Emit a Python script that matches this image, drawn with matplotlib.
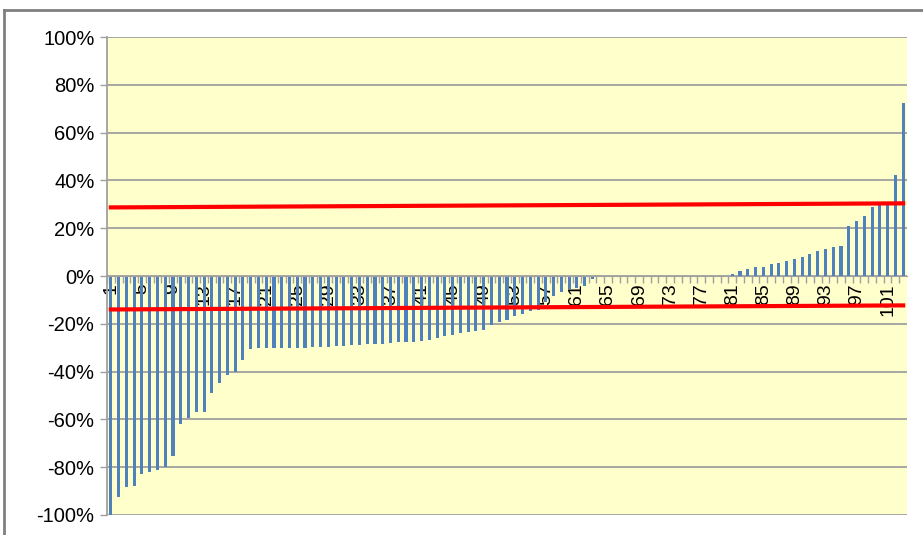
import matplotlib
matplotlib.use("Agg")
import matplotlib.pyplot as plt
from matplotlib.lines import Line2D
from matplotlib.ticker import FuncFormatter, FixedLocator

# =====================================================
# Data (percent values, sorted)
# =====================================================

values = [
    -100.0, -92.5, -88.3, -88.0, -83.0, -82.0, -81.0, -80.0, -75.5, -62.0,
    -59.4, -57.0, -56.7, -48.8, -44.7, -41.6, -40.0, -35.2,
    -30.5, -30.3, -30.3, -30.2, -30.2, -30.1, -30.1, -30.0, -29.8, -29.6,
    -29.5, -29.3, -29.1, -29.0, -28.8, -28.6, -28.5, -28.3, -28.0, -27.8,
    -27.7, -27.5, -27.2, -26.8,
    -25.9, -25.2, -24.6, -23.8, -23.5, -23.2, -22.8, -20.7, -19.2, -18.5,
    -16.8, -15.8, -14.7, -14.3,
    -11.0, -8.4, -6.9, -5.6, -5.2, -4.3, -1.2,
    0.0, 0.0, 0.0, 0.0, 0.0, 0.0, 0.0, 0.0, 0.0, 0.0, 0.0, 0.0, 0.0, 0.0,
    0.0, 0.0, 0.0,
    0.7, 2.1, 3.1, 3.6, 3.6, 5.2, 5.6, 6.2, 7.1, 8.1, 9.1, 10.5, 11.5,
    12.0, 12.4, 21.0, 22.9, 24.9, 29.0, 29.8, 29.8, 42.3, 72.3,
]

categories = list(range(1, len(values) + 1))

# red reference lines: value at first and last category
upper_line = [28.7, 30.4]
lower_line = [-14.0, -12.3]

y_ticks = [-100, -80, -60, -40, -20, 0, 20, 40, 60, 80, 100]

# =====================================================
# Plot
# =====================================================

plt.rcParams["font.family"] = ["Liberation Sans", "DejaVu Sans"]

fig = plt.figure(figsize=(9.23, 5.35), dpi=100)
ax = fig.add_axes([0.1159, 0.0374, 0.8668, 0.8934])
ax.set_facecolor("#FFFFCC")
ax.set_axisbelow(True)

ax.bar(categories, values, width=0.4, color="#4F81BD", zorder=1)

line_x = [categories[0], categories[-1]]
ax.plot(line_x, upper_line, color="#FF0000", linewidth=3, zorder=3,
        solid_capstyle="projecting")
ax.plot(line_x, lower_line, color="#FF0000", linewidth=3, zorder=3,
        solid_capstyle="projecting")

ax.set_xlim(0.5, len(values) + 0.5)
ax.set_ylim(-100, 100)

# y axis
ax.set_yticks(y_ticks)
ax.yaxis.set_major_formatter(FuncFormatter(lambda v, p: f"{v:.0f}%"))
ax.grid(axis="y", color="#A0A0A0", linewidth=1.3)
ax.tick_params(axis="y", length=5, width=1, color="#A0A0A0",
               labelsize=14.5, pad=4)

# x axis sits at zero, labels every 4th category
for side in ["top", "right"]:
    ax.spines[side].set_visible(False)
ax.spines["bottom"].set_position(("data", 0))
ax.spines["bottom"].set_color("#A0A0A0")
ax.spines["left"].set_color("#A0A0A0")
ax.spines["left"].set_linewidth(1.3)

ax.set_xticks(categories[::4])
ax.set_xticklabels([str(c) for c in categories[::4]], rotation=90,
                   va="top", ha="center")
ax.xaxis.set_minor_locator(FixedLocator([c + 0.5 for c in categories[:-1]]
                                        + [0.5]))
ax.tick_params(axis="x", which="major", length=0, labelsize=14, pad=5)
ax.tick_params(axis="x", which="minor", length=5, width=1, color="#A0A0A0")

# chart frame
fig.add_artist(Line2D([0.0045, 0.0045], [0.0, 0.981], color="#808080",
                      linewidth=2))
fig.add_artist(Line2D([0.0045, 1.0], [0.981, 0.981], color="#808080",
                      linewidth=2))

plt.savefig("out.png", dpi=100)
